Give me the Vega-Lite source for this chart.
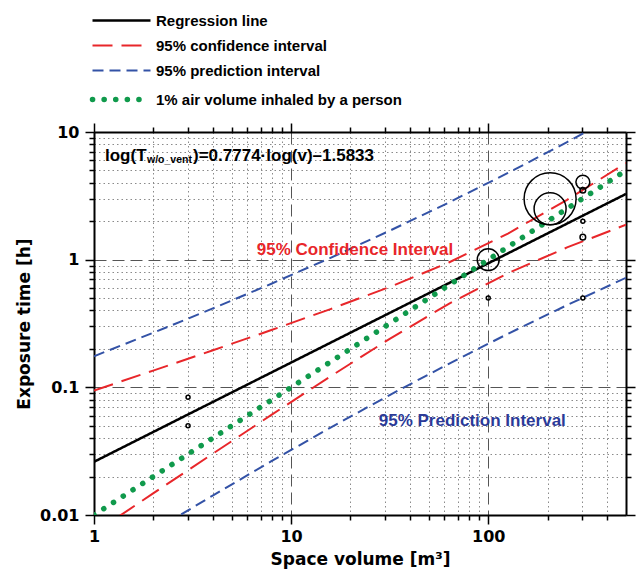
{
  "$schema": "https://vega.github.io/schema/vega-lite/v6.json",
  "width": 532,
  "height": 383,
  "autosize": {"type": "none"},
  "padding": {"left": 94, "top": 132, "right": 11, "bottom": 59},
  "background": "white",
  "config": {"font": "Liberation Sans", "view": {"stroke": null}},
  "datasets": {
    "lines": [
      {"v": 1, "T": 0.0261, "series": "Regression line", "curve": "reg"},
      {"v": 500, "T": 3.273, "series": "Regression line", "curve": "reg"},
      {"v": 1, "T": 0.0943, "series": "95% confidence interval", "curve": "cu"},
      {"v": 1.995, "T": 0.1352, "series": "95% confidence interval", "curve": "cu"},
      {"v": 3.981, "T": 0.1943, "series": "95% confidence interval", "curve": "cu"},
      {"v": 7.943, "T": 0.281, "series": "95% confidence interval", "curve": "cu"},
      {"v": 15.85, "T": 0.4102, "series": "95% confidence interval", "curve": "cu"},
      {"v": 31.62, "T": 0.6109, "series": "95% confidence interval", "curve": "cu"},
      {"v": 63.1, "T": 0.9502, "series": "95% confidence interval", "curve": "cu"},
      {"v": 125.9, "T": 1.6, "series": "95% confidence interval", "curve": "cu"},
      {"v": 251.2, "T": 2.945, "series": "95% confidence interval", "curve": "cu"},
      {"v": 500, "T": 5.71, "series": "95% confidence interval", "curve": "cu"},
      {"v": 1, "T": 0.00722, "series": "95% confidence interval", "curve": "cl"},
      {"v": 1.995, "T": 0.01476, "series": "95% confidence interval", "curve": "cl"},
      {"v": 3.981, "T": 0.03002, "series": "95% confidence interval", "curve": "cl"},
      {"v": 7.943, "T": 0.06083, "series": "95% confidence interval", "curve": "cl"},
      {"v": 15.85, "T": 0.122, "series": "95% confidence interval", "curve": "cl"},
      {"v": 31.62, "T": 0.2396, "series": "95% confidence interval", "curve": "cl"},
      {"v": 63.1, "T": 0.451, "series": "95% confidence interval", "curve": "cl"},
      {"v": 125.9, "T": 0.7838, "series": "95% confidence interval", "curve": "cl"},
      {"v": 251.2, "T": 1.247, "series": "95% confidence interval", "curve": "cl"},
      {"v": 500, "T": 1.876, "series": "95% confidence interval", "curve": "cl"},
      {"v": 1, "T": 0.1752, "series": "95% prediction interval", "curve": "pu"},
      {"v": 1.995, "T": 0.2674, "series": "95% prediction interval", "curve": "pu"},
      {"v": 3.981, "T": 0.413, "series": "95% prediction interval", "curve": "pu"},
      {"v": 7.943, "T": 0.6478, "series": "95% prediction interval", "curve": "pu"},
      {"v": 15.85, "T": 1.034, "series": "95% prediction interval", "curve": "pu"},
      {"v": 31.62, "T": 1.684, "series": "95% prediction interval", "curve": "pu"},
      {"v": 63.1, "T": 2.803, "series": "95% prediction interval", "curve": "pu"},
      {"v": 125.9, "T": 4.776, "series": "95% prediction interval", "curve": "pu"},
      {"v": 251.2, "T": 8.336, "series": "95% prediction interval", "curve": "pu"},
      {"v": 500, "T": 14.85, "series": "95% prediction interval", "curve": "pu"},
      {"v": 1, "T": 0.003888, "series": "95% prediction interval", "curve": "pl"},
      {"v": 1.995, "T": 0.007457, "series": "95% prediction interval", "curve": "pl"},
      {"v": 3.981, "T": 0.01413, "series": "95% prediction interval", "curve": "pl"},
      {"v": 7.943, "T": 0.02638, "series": "95% prediction interval", "curve": "pl"},
      {"v": 15.85, "T": 0.04838, "series": "95% prediction interval", "curve": "pl"},
      {"v": 31.62, "T": 0.08699, "series": "95% prediction interval", "curve": "pl"},
      {"v": 63.1, "T": 0.1529, "series": "95% prediction interval", "curve": "pl"},
      {"v": 125.9, "T": 0.2627, "series": "95% prediction interval", "curve": "pl"},
      {"v": 251.2, "T": 0.4406, "series": "95% prediction interval", "curve": "pl"},
      {"v": 500, "T": 0.7215, "series": "95% prediction interval", "curve": "pl"},
      {"v": 1, "T": 0.01, "series": "1% air volume inhaled by a person", "curve": "air"},
      {"v": 500, "T": 5.0, "series": "1% air volume inhaled by a person", "curve": "air"}
    ],
    "points": [
      {"v": 3, "T": 0.0835, "n": 1},
      {"v": 3, "T": 0.05, "n": 1},
      {"v": 100, "T": 1.0, "n": 30},
      {"v": 100, "T": 0.5, "n": 1},
      {"v": 206, "T": 3.0, "n": 169},
      {"v": 206, "T": 2.5, "n": 64},
      {"v": 302, "T": 4.05, "n": 12},
      {"v": 302, "T": 3.5, "n": 2},
      {"v": 302, "T": 2.0, "n": 1},
      {"v": 302, "T": 1.5, "n": 2},
      {"v": 302, "T": 0.5, "n": 1}
    ]
  },
  "layer": [
    {
      "data": {"name": "lines"},
      "transform": [{"filter": "datum.curve !== 'reg' && datum.curve !== 'air'"}],
      "mark": {"type": "line", "strokeWidth": 2, "clip": true},
      "encoding": {
        "x": {
          "field": "v", "type": "quantitative",
          "scale": {"type": "log", "domain": [1, 500], "nice": false},
          "axis": {
            "orient": "bottom",
            "values": [1, 2, 3, 4, 5, 6, 7, 8, 9, 10, 20, 30, 40, 50, 60, 70, 80, 90, 100, 200, 300, 400],
            "labelExpr": "indexof([1, 10, 100], datum.value) >= 0 ? format(datum.value, '~g') : ''",
            "labelFont": "DejaVu Sans", "labelFontWeight": "bold", "labelFontSize": 16, "labelColor": "black",
            "labelPadding": 4, "labelOverlap": false, "labelFlush": false,
            "tickSize": {"condition": {"test": "indexof([1, 10, 100], datum.value) >= 0", "value": 9}, "value": 5},
            "tickColor": "black", "tickWidth": 1.5,
            "domainColor": "black", "domainWidth": 2,
            "grid": true,
            "gridColor": {"condition": {"test": "indexof([1, 10, 100], datum.value) >= 0", "value": "#555555"}, "value": "#8a8a8a"},
            "gridDash": {"condition": {"test": "indexof([1, 10, 100], datum.value) >= 0", "value": [12, 6]}, "value": [1.5, 3]},
            "gridWidth": 1,
            "title": "Space volume [m³]", "titleFont": "DejaVu Sans", "titleFontSize": 17, "titleFontWeight": "bold", "titleColor": "black", "titlePadding": 7
          }
        },
        "y": {
          "field": "T", "type": "quantitative",
          "scale": {"type": "log", "domain": [0.01, 10], "nice": false},
          "axis": {
            "orient": "left",
            "values": [0.01, 0.02, 0.03, 0.04, 0.05, 0.06, 0.07, 0.08, 0.09, 0.1, 0.2, 0.3, 0.4, 0.5, 0.6, 0.7, 0.8, 0.9, 1, 2, 3, 4, 5, 6, 7, 8, 9, 10],
            "labelExpr": "indexof([0.01, 0.1, 1, 10], datum.value) >= 0 ? format(datum.value, '~g') : ''",
            "labelFont": "DejaVu Sans", "labelFontWeight": "bold", "labelFontSize": 16, "labelColor": "black",
            "labelPadding": 6, "labelOverlap": false, "labelFlush": false,
            "tickSize": {"condition": {"test": "indexof([0.01, 0.1, 1, 10], datum.value) >= 0", "value": 9}, "value": 5},
            "tickColor": "black", "tickWidth": 1.5,
            "domainColor": "black", "domainWidth": 2,
            "grid": true,
            "gridColor": {"condition": {"test": "indexof([0.01, 0.1, 1, 10], datum.value) >= 0", "value": "#555555"}, "value": "#8a8a8a"},
            "gridDash": {"condition": {"test": "indexof([0.01, 0.1, 1, 10], datum.value) >= 0", "value": [12, 6]}, "value": [1.5, 3]},
            "gridWidth": 1,
            "title": "Exposure time [h]", "titleFont": "DejaVu Sans", "titleFontSize": 17, "titleFontWeight": "bold", "titleColor": "black", "titlePadding": 6
          }
        },
        "detail": {"field": "curve"},
        "color": {
          "field": "series", "type": "nominal",
          "scale": {
            "domain": ["Regression line", "95% confidence interval", "95% prediction interval", "1% air volume inhaled by a person"],
            "range": ["#000000", "#e8262a", "#3352a6", "#109a4c"]
          },
          "legend": {
            "title": null, "orient": "none", "legendX": -1, "legendY": -119,
            "symbolType": "stroke", "symbolSize": 3364, "symbolStrokeWidth": 2,
            "symbolOffset": 21,
            "labelFont": "Liberation Sans", "labelFontSize": 15, "labelFontWeight": "bold", "labelColor": "black",
            "labelOffset": 27, "rowPadding": 9, "padding": 0, "labelLimit": 400,
            "encode": {
              "symbols": {
                "update": {
                  "strokeCap": {"signal": "datum.value === '1% air volume inhaled by a person' ? 'round' : 'butt'"},
                  "strokeWidth": {"signal": "datum.value === '1% air volume inhaled by a person' ? 5.5 : (datum.value === 'Regression line' ? 2.5 : 2)"}
                }
              }
            }
          }
        },
        "strokeDash": {
          "field": "series", "type": "nominal",
          "scale": {
            "domain": ["Regression line", "95% confidence interval", "95% prediction interval", "1% air volume inhaled by a person"],
            "range": [[1, 0], [20, 9], [11, 6], [0.1, 11.5]]
          }
        }
      }
    },
    {
      "data": {"name": "lines"},
      "transform": [{"filter": "datum.curve === 'reg'"}],
      "mark": {"type": "line", "strokeWidth": 2.5, "clip": true},
      "encoding": {
        "x": {"field": "v", "type": "quantitative", "axis": null},
        "y": {"field": "T", "type": "quantitative", "axis": null},
        "detail": {"field": "curve"},
        "color": {"field": "series", "type": "nominal"},
        "strokeDash": {"field": "series", "type": "nominal"}
      }
    },
    {
      "data": {"name": "lines"},
      "transform": [{"filter": "datum.curve === 'air'"}],
      "mark": {"type": "line", "strokeWidth": 5.5, "strokeCap": "round", "clip": true},
      "encoding": {
        "x": {"field": "v", "type": "quantitative", "axis": null},
        "y": {"field": "T", "type": "quantitative", "axis": null},
        "detail": {"field": "curve"},
        "color": {"field": "series", "type": "nominal"},
        "strokeDash": {"field": "series", "type": "nominal"}
      }
    },
    {
      "data": {"name": "points"},
      "mark": {"type": "point", "shape": "circle", "filled": false, "stroke": "black", "strokeWidth": 1.5, "opacity": 1},
      "encoding": {
        "x": {"field": "v", "type": "quantitative", "axis": null},
        "y": {"field": "T", "type": "quantitative", "axis": null},
        "size": {"field": "n", "type": "quantitative", "scale": {"type": "linear", "domain": [0, 169], "range": [0, 2704]}, "legend": null}
      }
    },
    {
      "data": {"values": [{"v": 1.137, "T": 5.91, "text": "log(T"}]},
      "mark": {"type": "text", "align": "left", "baseline": "alphabetic", "font": "Liberation Sans", "fontSize": 17, "fontWeight": "bold", "color": "black"},
      "encoding": {
        "x": {"field": "v", "type": "quantitative", "axis": null},
        "y": {"field": "T", "type": "quantitative", "axis": null},
        "text": {"field": "text"}
      }
    },
    {
      "data": {"values": [{"v": 1.858, "T": 5.70, "text": "w/o_vent"}]},
      "mark": {"type": "text", "align": "left", "baseline": "alphabetic", "font": "Liberation Sans", "fontSize": 10.5, "fontWeight": "bold", "color": "black"},
      "encoding": {
        "x": {"field": "v", "type": "quantitative", "axis": null},
        "y": {"field": "T", "type": "quantitative", "axis": null},
        "text": {"field": "text"}
      }
    },
    {
      "data": {"values": [{"v": 3.18, "T": 5.91, "text": ")=0.7774·log(v)–1.5833"}]},
      "mark": {"type": "text", "align": "left", "baseline": "alphabetic", "font": "Liberation Sans", "fontSize": 17, "fontWeight": "bold", "color": "black"},
      "encoding": {
        "x": {"field": "v", "type": "quantitative", "axis": null},
        "y": {"field": "T", "type": "quantitative", "axis": null},
        "text": {"field": "text"}
      }
    },
    {
      "data": {"values": [{"v": 21.1, "T": 1.197, "text": "95% Confidence Interval"}]},
      "mark": {"type": "text", "align": "center", "baseline": "middle", "font": "Liberation Sans", "fontSize": 17, "fontWeight": "bold", "color": "#e8262a"},
      "encoding": {
        "x": {"field": "v", "type": "quantitative", "axis": null},
        "y": {"field": "T", "type": "quantitative", "axis": null},
        "text": {"field": "text"}
      }
    },
    {
      "data": {"values": [{"v": 83, "T": 0.0548, "text": "95% Prediction Interval"}]},
      "mark": {"type": "text", "align": "center", "baseline": "middle", "font": "Liberation Sans", "fontSize": 17, "fontWeight": "bold", "color": "#2b3a98"},
      "encoding": {
        "x": {"field": "v", "type": "quantitative", "axis": null},
        "y": {"field": "T", "type": "quantitative", "axis": null},
        "text": {"field": "text"}
      }
    },
    {
      "data": {"name": "points"},
      "mark": {"type": "point", "opacity": 0},
      "encoding": {
        "x": {
          "field": "v", "type": "quantitative",
          "axis": {
            "orient": "top", "title": null, "labels": false, "grid": false,
            "values": [1, 2, 3, 4, 5, 6, 7, 8, 9, 10, 20, 30, 40, 50, 60, 70, 80, 90, 100, 200, 300, 400],
            "tickSize": {"condition": {"test": "indexof([1, 10, 100], datum.value) >= 0", "value": 9}, "value": 5},
            "tickColor": "black", "tickWidth": 1.5, "domainColor": "black", "domainWidth": 2
          }
        },
        "y": {
          "field": "T", "type": "quantitative",
          "axis": {
            "orient": "right", "title": null, "labels": false, "grid": false,
            "values": [0.01, 0.02, 0.03, 0.04, 0.05, 0.06, 0.07, 0.08, 0.09, 0.1, 0.2, 0.3, 0.4, 0.5, 0.6, 0.7, 0.8, 0.9, 1, 2, 3, 4, 5, 6, 7, 8, 9, 10],
            "tickSize": {"condition": {"test": "indexof([0.01, 0.1, 1, 10], datum.value) >= 0", "value": 9}, "value": 5},
            "tickColor": "black", "tickWidth": 1.5, "domainColor": "black", "domainWidth": 2
          }
        }
      }
    }
  ],
  "resolve": {"axis": {"x": "independent", "y": "independent"}}
}
